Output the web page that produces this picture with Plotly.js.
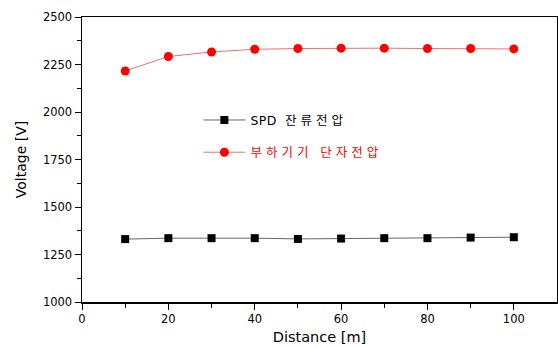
<!DOCTYPE html>
<html>
<head>
<meta charset="utf-8">
<script src="https://cdn.plot.ly/plotly-3.0.1.min.js"></script>
<style>html,body{margin:0;padding:0;background:#fff;}#chart{width:558px;height:347px;}</style>
</head>
<body>
<div id="chart"></div>
<script>
const distance = [10, 20, 30, 40, 50, 60, 70, 80, 90, 100];
const spdResidual = [1331, 1336, 1336, 1336, 1332, 1334, 1336, 1336, 1339, 1341];
const loadTerminal = [2216, 2292, 2316, 2330, 2334, 2336, 2336, 2334, 2334, 2332];
const seriesNames = ['SPD 잔류전압', '부하기기 단자전압'];

const FONT = '"DejaVu Sans", "Noto Sans CJK KR", sans-serif';

// widen Hangul runs (as in the reference) while keeping Latin tight
function spaced(s, color) {
  return s.split(/(\s*[\uAC00-\uD7A3][\s\uAC00-\uD7A3]*)/).filter(p => p.length).map(p =>
    /[\uAC00-\uD7A3]/.test(p)
      ? '<span style="letter-spacing:4px;fill:' + color + '">' + p + '</span>'
      : '<span style="letter-spacing:0.5px;fill:' + color + '">' + p + '</span>'
  ).join('');
}

const traces = [
  {
    x: distance, y: spdResidual, name: spaced(seriesNames[0], '#000000'), legendgroup: 'a',
    type: 'scatter', mode: 'lines+markers',
    line: {color: '#666666', width: 1},
    marker: {symbol: 'square', size: 8, color: '#000000'}
  },
  {
    x: distance, y: loadTerminal, name: spaced(seriesNames[1], '#ff0000'), legendgroup: 'b',
    type: 'scatter', mode: 'lines+markers',
    line: {color: '#f07070', width: 1},
    marker: {symbol: 'circle', size: 9, color: '#ff0000'}
  }
];

const layout = {
  width: 558, height: 347,
  margin: {l: 82, r: 1, t: 17, b: 45},
  paper_bgcolor: '#ffffff', plot_bgcolor: '#ffffff',
  font: {family: FONT, size: 12, color: '#000'},
  showlegend: true,
  legend: {
    x: 0.245, y: 0.69, xanchor: 'left', yanchor: 'top',
    bgcolor: 'rgba(0,0,0,0)', traceorder: 'grouped', tracegroupgap: 13,
    itemwidth: 42,
    font: {family: FONT, size: 12.5, color: '#000'}
  },
  xaxis: {
    range: [0, 110], tickmode: 'array', tickvals: [0, 20, 40, 60, 80, 100],
    ticks: 'outside', ticklen: 6, tickwidth: 1, tickcolor: '#000',
    minor: {tickvals: [10, 30, 50, 70, 90], ticks: 'outside', ticklen: 4, tickcolor: '#000', showgrid: false},
    showline: true, linecolor: '#000', linewidth: 1.5, mirror: true,
    showgrid: false, zeroline: false,
    tickfont: {family: FONT, size: 11.5},
    title: {text: 'Distance [m]', font: {family: FONT, size: 14.5}, standoff: 6}
  },
  yaxis: {
    range: [1000, 2500], tickmode: 'array', tickvals: [1000, 1250, 1500, 1750, 2000, 2250, 2500],
    ticks: 'outside', ticklen: 6, tickwidth: 1, tickcolor: '#000',
    minor: {tickvals: [1125, 1375, 1625, 1875, 2125, 2375], ticks: 'outside', ticklen: 4, tickcolor: '#000', showgrid: false},
    showline: true, linecolor: '#000', linewidth: 1.5, mirror: true,
    showgrid: false, zeroline: false,
    tickfont: {family: FONT, size: 11.5},
    title: {text: 'Voltage [V]', font: {family: FONT, size: 14}, standoff: 13}
  }
};

Plotly.newPlot('chart', traces, layout, {displayModeBar: false, staticPlot: true});
</script>
</body>
</html>
